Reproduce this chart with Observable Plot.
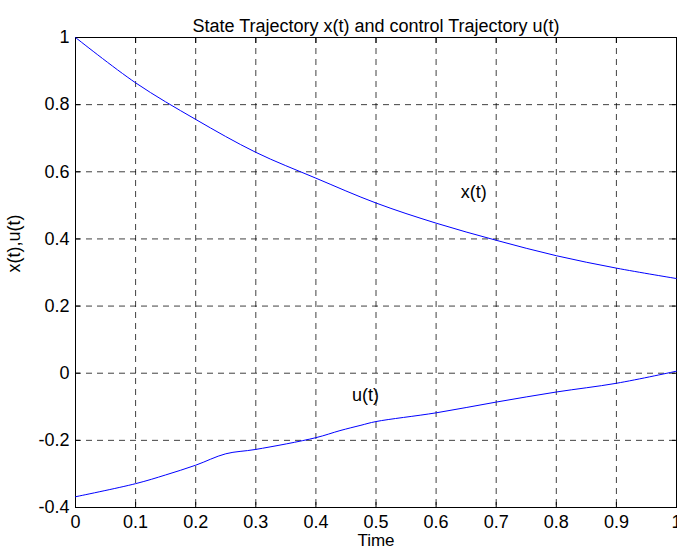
<!DOCTYPE html>
<html><head><meta charset="utf-8">
<script src="https://cdn.jsdelivr.net/npm/d3@7"></script>
<script src="https://cdn.jsdelivr.net/npm/@observablehq/plot@0.6"></script>
<style>html,body{margin:0;padding:0;background:#fff;overflow:hidden}</style>
</head><body><div id="chart"></div>
<script>
const titleText = "State Trajectory x(t) and control Trajectory u(t)";
const xLabel = "Time";
const yLabel = "x(t),u(t)";
const xTicks = [0, 0.1, 0.2, 0.3, 0.4, 0.5, 0.6, 0.7, 0.8, 0.9, 1];
const xTickLabels = ["0", "0.1", "0.2", "0.3", "0.4", "0.5", "0.6", "0.7", "0.8", "0.9", "1"];
const yTicks = [-0.4, -0.2, 0, 0.2, 0.4, 0.6, 0.8, 1];
const yTickLabels = ["-0.4", "-0.2", "0", "0.2", "0.4", "0.6", "0.8", "1"];

const tX = [0, 0.1, 0.2, 0.3, 0.4, 0.5, 0.6, 0.7, 0.8, 0.9, 1.0];
const xValues = [1.0, 0.865, 0.756, 0.658, 0.581, 0.507, 0.447, 0.396, 0.350, 0.313, 0.282];

const tU = [0, 0.1, 0.15, 0.2, 0.25, 0.3, 0.4, 0.44, 0.475, 0.5, 0.6, 0.7, 0.8, 0.9, 1.0];
const uValues = [-0.368, -0.329, -0.303, -0.274, -0.240, -0.227, -0.192, -0.171, -0.155, -0.144, -0.118, -0.086, -0.056, -0.030, 0.006];

const curveNames = ["x(t)", "u(t)"];
const curveLabelT = [0.641, 0.460];
const curveLabelV = [0.54, -0.065];

const xData = tX.map((t, i) => ({t, v: xValues[i]}));
const uData = tU.map((t, i) => ({t, v: uValues[i]}));
const labelData = curveNames.map((name, i) => ({name, t: curveLabelT[i], v: curveLabelV[i]}));

const font = "'Liberation Sans', Arial, Helvetica, sans-serif";
const gridStyle = {stroke: "#000", strokeOpacity: 0.75, strokeDasharray: "6,5", strokeWidth: 1};

const chart = Plot.plot({
  width: 677,
  height: 553,
  marginLeft: 75,
  marginRight: 1,
  marginTop: 37,
  marginBottom: 46,
  style: {fontFamily: font, fontSize: "18px", background: "white", color: "black"},
  x: {domain: [0, 1]},
  y: {domain: [-0.4, 1]},
  marks: [
    Plot.gridX(xTicks.slice(1, -1), gridStyle),
    Plot.gridY(yTicks.slice(1, -1), gridStyle),
    Plot.axisX(xTicks, {anchor: "bottom", tickSize: 5, dy: -5, text: null, label: null, stroke: "#000"}),
    Plot.axisX(xTicks, {anchor: "top", tickSize: 5, dy: 5, text: null, label: null, stroke: "#000"}),
    Plot.axisY(yTicks, {anchor: "left", tickSize: 5, dx: 5, text: null, label: null, stroke: "#000"}),
    Plot.axisY(yTicks, {anchor: "right", tickSize: 5, dx: -5, text: null, label: null, stroke: "#000"}),
    Plot.axisX(xTicks, {anchor: "bottom", tickSize: 0, tickPadding: 8, label: null, fontSize: 18,
      tickFormat: d => xTickLabels[xTicks.indexOf(d)]}),
    Plot.axisY(yTicks, {anchor: "left", tickSize: 0, tickPadding: 6, label: null, fontSize: 18,
      tickFormat: d => yTickLabels[yTicks.indexOf(d)]}),
    Plot.frame({stroke: "#000", strokeWidth: 1}),
    Plot.line(xData, {x: "t", y: "v", stroke: "#0000ff", strokeWidth: 1, curve: "catmull-rom"}),
    Plot.line(uData, {x: "t", y: "v", stroke: "#0000ff", strokeWidth: 1, curve: "catmull-rom"}),
    Plot.text(labelData, {x: "t", y: "v", text: "name", textAnchor: "start", fontSize: 18, fill: "#000"}),
    Plot.text([titleText], {text: d => d, frameAnchor: "top", dy: -18.5, fontSize: 18, fill: "#000"}),
    Plot.text([xLabel], {text: d => d, frameAnchor: "bottom", dy: 38, fontSize: 17, fill: "#000"}),
    Plot.text([yLabel], {text: d => d, frameAnchor: "left", rotate: -90, dx: -61, fontSize: 18, fill: "#000"})
  ]
});
document.getElementById("chart").appendChild(chart);
</script>
</body></html>
